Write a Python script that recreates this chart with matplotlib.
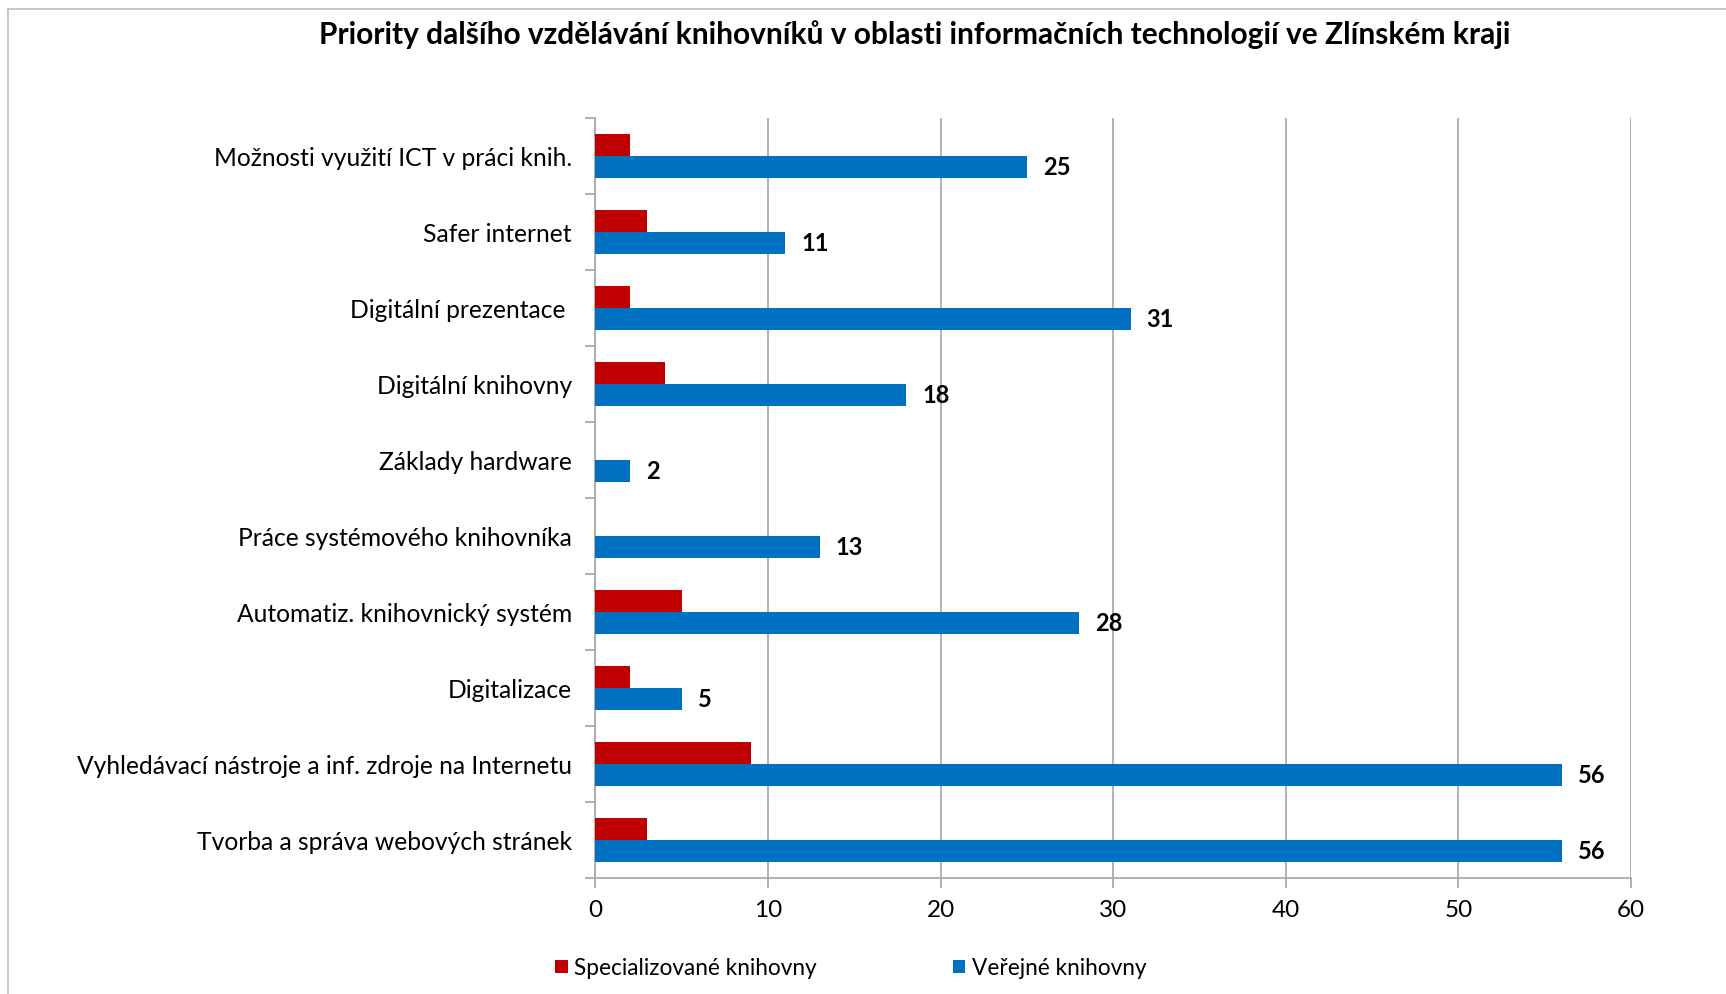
import numpy as np
import matplotlib
matplotlib.use("Agg")
import matplotlib.pyplot as plt
from matplotlib.lines import Line2D

plt.rcParams['font.family'] = ['Lato', 'DejaVu Sans']

categories = ["Možnosti využití ICT v práci knih.",
              "Safer internet",
              "Digitální prezentace ",
              "Digitální knihovny",
              "Základy hardware",
              "Práce systémového knihovníka",
              "Automatiz. knihovnický systém",
              "Digitalizace",
              "Vyhledávací nástroje a inf. zdroje na Internetu",
              "Tvorba a správa webových stránek"]
specializovane = [2, 3, 2, 4, 0, 0, 5, 2, 9, 3]
verejne = [25, 11, 31, 18, 2, 13, 28, 5, 56, 56]
series_names = ["Specializované knihovny", "Veřejné knihovny"]
title = "Priority dalšího vzdělávání knihovníků v oblasti informačních technologií ve Zlínském kraji"

red = "#c00000"
blue = "#0070c0"
grid_c = "#a6a6a6"

fig = plt.figure(figsize=(17.26, 9.94), dpi=100)
ax = fig.add_axes([0.345, 0.1167, 0.6, 0.7643])

y = np.arange(len(categories))
h = 0.29
ax.barh(y - h/2, specializovane, height=h, color=red, label=series_names[0], zorder=3)
bars = ax.barh(y + h/2, verejne, height=h, color=blue, label=series_names[1], zorder=3)

for b, v in zip(bars, verejne):
    ax.annotate(str(v), (b.get_width(), b.get_y() + b.get_height()/2),
                xytext=(16, 0), textcoords='offset pixels', va='center', ha='left',
                fontsize=17, fontweight='bold', color='black')

ax.set_xlim(0, 60)
ax.set_ylim(len(categories) - 0.5, -0.5)
ax.set_xticks(np.arange(0, 61, 10))
ax.set_yticks(y)
ax.set_yticklabels(categories)
ax.set_yticks(np.arange(-0.5, len(categories)), minor=True)
ax.tick_params(axis='y', which='major', length=0, pad=17, labelsize=17.7)
ax.tick_params(axis='y', which='minor', length=7, color=grid_c, width=1.2)
ax.tick_params(axis='x', length=7, color=grid_c, width=1.2, labelsize=17.5, pad=9)
ax.grid(axis='x', color=grid_c, linewidth=1.2, zorder=0)
for s in ['top', 'right']:
    ax.spines[s].set_visible(False)
for s in ['left', 'bottom']:
    ax.spines[s].set_color(grid_c)
    ax.spines[s].set_linewidth(1.2)

fig.text(0.53, 0.965, title, ha='center', va='center', fontsize=21.5, fontweight='bold')

leg = fig.legend(loc='center', bbox_to_anchor=(0.493, 0.026), ncol=2, frameon=False,
                 fontsize=16.3, handlelength=0.55, handleheight=0.55, columnspacing=6.0,
                 handletextpad=0.3)

# outer chart border (partially cropped)
fig.add_artist(Line2D([0.0046, 0.0046], [0, 0.991], transform=fig.transFigure, color="#bfbfbf", lw=1.2))
fig.add_artist(Line2D([0.0046, 1], [0.991, 0.991], transform=fig.transFigure, color="#bfbfbf", lw=1.2))

fig.savefig("out.png", dpi=100)
